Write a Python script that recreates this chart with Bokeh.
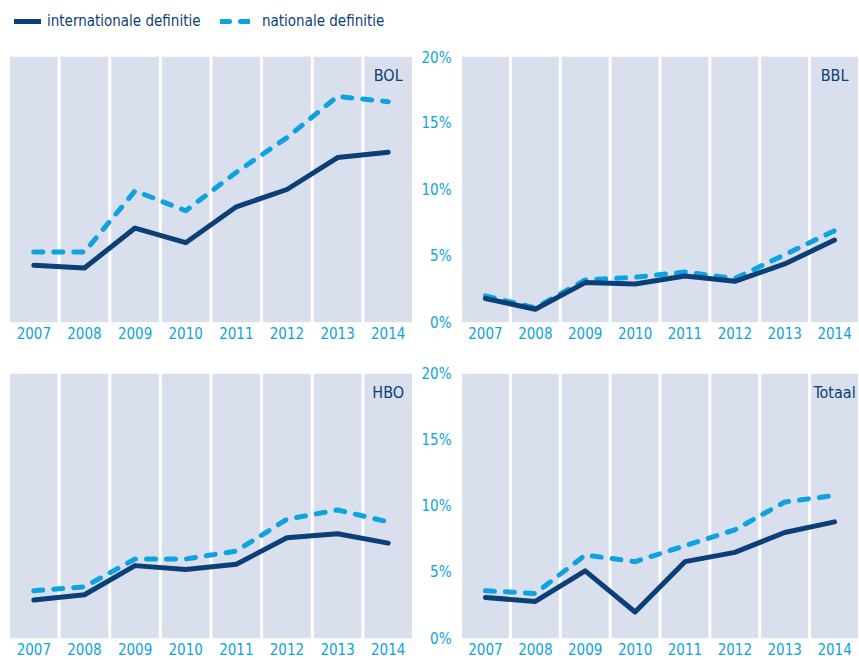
from bokeh.plotting import figure
from bokeh.layouts import column, row
from bokeh.models import (FactorRange, Range1d, Legend, LegendItem, FixedTicker,
                          PrintfTickFormatter)
from bokeh.core.properties import value
from bokeh.embed import file_html
from bokeh.resources import INLINE

# ---------------- data ----------------
years = ["2007", "2008", "2009", "2010", "2011", "2012", "2013", "2014"]

bol_int = [4.3, 4.1, 7.1, 6.0, 8.7, 10.0, 12.4, 12.8]
bol_nat = [5.3, 5.3, 9.9, 8.4, 11.3, 13.9, 17.0, 16.6]

bbl_int = [1.8, 1.0, 3.0, 2.9, 3.5, 3.1, 4.4, 6.2]
bbl_nat = [2.0, 1.1, 3.2, 3.4, 3.8, 3.3, 5.1, 6.9]

hbo_int = [2.9, 3.3, 5.5, 5.2, 5.6, 7.6, 7.9, 7.2]
hbo_nat = [3.6, 3.9, 6.0, 6.0, 6.6, 9.0, 9.7, 8.8]

tot_int = [3.1, 2.8, 5.1, 2.0, 5.8, 6.5, 8.0, 8.8]
tot_nat = [3.6, 3.4, 6.3, 5.8, 7.0, 8.2, 10.3, 10.8]

y_ticks = [0, 5, 10, 15, 20]
y_max = 20
series_labels = ["internationale definitie", "nationale definitie"]

# ---------------- style ----------------
FONT = "'Liberation Sans Narrow', 'DejaVu Sans Condensed', 'Noto Sans Condensed', 'Roboto Condensed', 'Open Sans'"
NAVY = "#0b3f77"
LIGHT = "#0ca3e0"
BAND = "#d9dfec"
DASH = "9 11"
TICK_SIZE = "15px"


def make_panel(title, intl, nat, with_axis, width, height, bl, br, bt, bb):
    p = figure(width=width, height=height,
               x_range=FactorRange(*years, range_padding=0),
               y_range=Range1d(0, y_max),
               output_backend="svg", toolbar_location=None,
               min_border_left=bl, min_border_right=br,
               min_border_top=bt, min_border_bottom=bb,
               y_axis_location="left" if with_axis else None)
    p.outline_line_color = None
    p.background_fill_color = "white"
    p.border_fill_color = "white"
    p.grid.visible = False

    p.vbar(x=years, top=[y_max] * len(years), bottom=0, width=0.94,
           fill_color=BAND, line_color=None)

    p.line(x=years, y=nat, line_color=LIGHT, line_width=5,
           line_dash=DASH, line_cap="round", line_join="round")
    p.line(x=years, y=intl, line_color=NAVY, line_width=5,
           line_cap="round", line_join="round")

    p.text(x=[years[-1]], y=[y_max], text=[title], text_align="center",
           text_baseline="top", y_offset=9, text_color=NAVY,
           text_font=value(FONT), text_font_size="16px")

    xa = p.xaxis[0]
    xa.axis_line_color = None
    xa.major_tick_line_color = None
    xa.minor_tick_line_color = None
    xa.major_tick_out = 0
    xa.major_tick_in = 0
    xa.minor_tick_out = 0
    xa.major_label_text_color = LIGHT
    xa.major_label_text_font = FONT
    xa.major_label_text_font_size = TICK_SIZE
    xa.major_label_standoff = 4

    if with_axis:
        ya = p.yaxis[0]
        ya.ticker = FixedTicker(ticks=y_ticks)
        ya.formatter = PrintfTickFormatter(format="%d%%")
        ya.axis_line_color = None
        ya.major_tick_line_color = None
        ya.minor_tick_line_color = None
        ya.major_tick_out = 0
        ya.major_tick_in = 0
        ya.minor_tick_out = 0
        ya.major_label_text_color = LIGHT
        ya.major_label_text_font = FONT
        ya.major_label_text_font_size = TICK_SIZE
        ya.major_label_standoff = 9
    return p


# ---------------- legend strip ----------------
leg = figure(width=859, height=48, x_range=Range1d(0, 1), y_range=Range1d(0, 1),
             output_backend="svg", toolbar_location=None, min_border=0,
             x_axis_location=None, y_axis_location=None)
leg.outline_line_color = None
leg.grid.visible = False
# renderers kept outside the visible range: they only supply the legend samples
r_int = leg.line(x=[5, 6], y=[5, 6], line_color=NAVY, line_width=5, line_cap="round")
r_nat = leg.line(x=[5, 6], y=[5, 6], line_color=LIGHT, line_width=5, line_cap="round",
                 line_dash=DASH)

for lab, rend, loc, gw, so in [(series_labels[0], r_int, (14, 17), 27, 6),
                               (series_labels[1], r_nat, (220, 17), 30, 12)]:
    lg = Legend(items=[LegendItem(label=lab, renderers=[rend])],
                location=loc, orientation="horizontal",
                border_line_color=None, background_fill_alpha=0,
                padding=0, margin=0, glyph_width=gw, label_standoff=so,
                label_text_font=FONT, label_text_font_size="15px",
                label_text_color=NAVY)
    leg.add_layout(lg, "center")

# ---------------- panels ----------------
p_bol = make_panel("BOL", bol_int, bol_nat, False, 418, 312, 8, 5, 8, 38)
p_bbl = make_panel("BBL", bbl_int, bbl_nat, True, 441, 312, 41, 0, 8, 38)
p_hbo = make_panel("HBO", hbo_int, hbo_nat, False, 418, 300, 8, 5, 13, 22)
p_tot = make_panel("Totaal", tot_int, tot_nat, True, 441, 300, 41, 0, 13, 22)

layout = column(leg, row(p_bol, p_bbl), row(p_hbo, p_tot))

open("out.html", "w").write(file_html(layout, INLINE))
